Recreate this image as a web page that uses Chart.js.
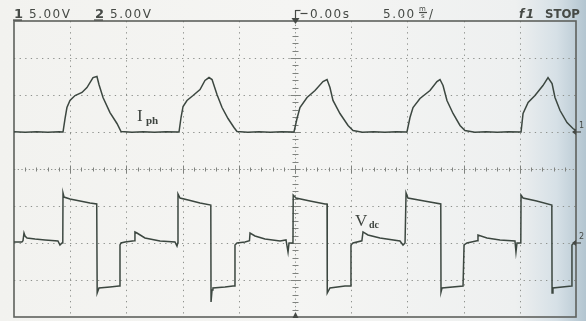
<!DOCTYPE html>
<html><head><meta charset="utf-8">
<script src="https://cdn.jsdelivr.net/npm/chart.js@4/dist/chart.umd.min.js"></script>
<style>html,body{margin:0;padding:0;background:#f3f3f1;overflow:hidden}canvas{display:block}</style>
</head><body>
<canvas id="scope" width="586" height="321"></canvas>
<script>
// Channel 1 — phase current probe, 5.00 V/div (time in ms, trigger at 0)
const ch1Time = [-25,-24,-23,-22,-21,-20.64,
  -20.46,-20.29,-20.02,-19.57,-18.95,-18.51,-17.97,-17.62,-17.44,-17.08,-16.46,-15.84,-15.48,
  -14.5,-13.5,-12.5,-11.5,-10.32,
  -10.14,-9.96,-9.61,-9.07,-8.45,-8.01,-7.65,-7.38,-6.94,-6.49,-5.96,-5.43,-5.16,
  -4.2,-3.2,-2.2,-1.2,-0.09,
  0.18,0.44,1.07,1.78,2.49,2.85,3.11,3.38,4.00,4.72,5.16,
  6.0,7.0,8.0,9.0,9.96,
  10.23,10.50,11.12,12.01,12.63,12.90,13.17,13.52,14.06,14.68,15.12,
  16.0,17.0,18.0,19.0,20.11,
  20.29,20.74,21.35,22.06,22.51,22.87,23.13,23.58,24.20,24.73,25];
const ch1Volts = [0.05,-0.03,0.04,-0.02,0.03,0,
  1.82,3.31,4.26,4.93,5.34,6.01,7.36,7.50,6.42,4.66,2.63,1.15,0.07,
  -0.03,0.04,-0.02,0.03,0,
  1.96,3.45,4.26,4.93,5.74,6.96,7.36,7.09,5.07,3.31,1.82,0.61,0.07,
  -0.03,0.04,-0.02,0.03,0,
  1.82,3.31,4.66,5.61,6.82,7.09,6.01,4.26,2.50,0.88,0.20,
  -0.03,0.04,-0.02,0.03,0,
  1.96,3.31,4.53,5.61,6.82,7.09,6.28,4.26,2.50,0.88,0.20,
  -0.03,0.04,-0.02,0.03,0,
  2.50,3.99,4.93,6.28,7.36,6.55,4.66,2.90,1.28,0.47,0.20];

// Channel 2 — DC-link voltage probe, 5.00 V/div
const ch2Time = [-25,-24.3,-24.2,-24.11,-24.02,-23.84,-23.13,-22.24,-21.09,-20.91,-20.73,-20.66,
  -20.64,-20.55,-20.02,-19.13,-18.24,-17.64,-17.60,-17.44,-16.46,-15.66,-15.59,-15.57,-15.48,
  -15.12,-14.30,-14.24,-14.06,-13.35,-12.01,-10.68,-10.50,-10.43,
  -10.41,-10.23,-9.5,-8.45,-7.49,-7.47,-7.38,-7.30,-6.23,-5.52,-5.36,-5.34,-5.16,
  -4.45,-4.05,-4.00,-3.56,-2.67,-1.33,-0.80,-0.62,-0.53,-0.18,
  -0.16,0.09,1.33,2.67,2.85,2.87,3.11,4.45,4.96,4.98,5.16,
  5.95,6.05,6.49,7.56,9.34,9.61,9.79,9.86,
  9.88,10.05,11.5,12.97,12.99,13.08,14.95,15.02,15.04,15.30,
  16.2,16.28,17.08,18.24,19.57,19.66,19.75,20.09,
  20.11,20.29,21.5,22.85,22.87,22.95,24.62,24.64,25];
const ch2Volts = [0.14,0.14,0.3,1.35,0.95,0.68,0.54,0.41,0.27,-0.27,0,0,
  6.76,6.21,5.94,5.67,5.40,5.27,-6.76,-6.08,-5.94,-5.81,-5.81,-0.27,0,
  0.14,0.3,1.49,1.35,0.68,0.27,0.14,-0.41,0,
  6.62,6.08,5.81,5.40,5.13,-7.97,-6.35,-6.08,-5.94,-5.81,-5.81,-0.27,0,
  0.14,0.3,1.35,0.95,0.54,0.27,0.41,-1.22,0,0,
  6.48,6.08,5.67,5.27,5.27,-6.76,-6.08,-5.81,-5.81,-0.27,0,
  0.3,1.49,1.08,0.68,0.27,-0.27,0,0,
  6.76,6.08,5.67,5.27,-6.62,-6.08,-5.81,-5.81,-0.27,0,
  0.3,1.08,0.68,0.41,0.27,-1.22,0,0,
  6.48,6.08,5.67,5.13,-6.76,-6.08,-5.81,-0.27,0.27];

// Screen divisions: 10 x 5 ms, 8 x 5 V
const timeDivs = [-20,-15,-10,-5,0,5,10,15,20];
const ch1Divs = [-20,-15,-10,-5,0,5,10];
const ch1Ground = 0, ch2Ground = 0;

const traceColor = '#3c4740';
const gridColor = '#8e918d';

function pairs(xs, ys){ return xs.map((x,i)=>({x, y: ys[i]})); }

function line(ctx,x1,y1,x2,y2){ ctx.beginPath(); ctx.moveTo(x1,y1); ctx.lineTo(x2,y2); ctx.stroke(); }

const backdrop = {
  id:'backdrop',
  beforeDraw(chart){
    const ctx = chart.ctx, w = chart.width, h = chart.height;
    const g = ctx.createLinearGradient(0,0,w,0);
    g.addColorStop(0,'#f2f2ef');
    g.addColorStop(0.5,'#f5f5f3');
    g.addColorStop(0.88,'#eef0f0');
    g.addColorStop(0.95,'#d6e0e6');
    g.addColorStop(1,'#b3c5d0');
    ctx.save(); ctx.fillStyle = g; ctx.fillRect(0,0,w,h); ctx.restore();
  }
};

const graticule = {
  id:'graticule',
  beforeDatasetsDraw(chart){
    const ctx = chart.ctx, {left,right,top,bottom} = chart.chartArea;
    const xs = chart.scales.x, ys = chart.scales.y1;
    ctx.save();
    ctx.strokeStyle = gridColor; ctx.lineWidth = 1;
    ctx.setLineDash([1.3,4.3]);
    timeDivs.forEach(t=>{ if(t===0) return; const p=Math.round(xs.getPixelForValue(t))+0.5; line(ctx,p,top,p,bottom); });
    ch1Divs.forEach(v=>{ if(v===-5) return; const p=Math.round(ys.getPixelForValue(v))+0.5; line(ctx,left,p,right,p); });
    // centre axes with minor ticks every fifth of a division
    ctx.setLineDash([1.3,2.4]);
    const cy = Math.round(ys.getPixelForValue(-5))+0.5;
    const cx = Math.round(xs.getPixelForValue(0))+0.5;
    line(ctx,left,cy,right,cy);
    line(ctx,cx,top,cx,bottom);
    ctx.setLineDash([]);
    ctx.strokeStyle = '#7f827e';
    for(let t=-24;t<=24;t++){
      const p = Math.round(xs.getPixelForValue(t))+0.5;
      const h = (t%5===0)?4:2;
      line(ctx,p,cy-h,p,cy+h);
    }
    for(let v=-24;v<=14;v++){
      const p = Math.round(ys.getPixelForValue(v))+0.5;
      const w = (v%5===0)?5:3;
      line(ctx,cx-w,p,cx+w,p);
    }
    // frame
    ctx.strokeStyle = '#5e615d'; ctx.lineWidth = 1.6;
    ctx.strokeRect(left,top,right-left,bottom-top);
    ctx.restore();
  }
};

const annotations = {
  id:'annotations',
  afterDraw(chart){
    const ctx = chart.ctx, {left,right,top,bottom} = chart.chartArea;
    const xs = chart.scales.x, y1 = chart.scales.y1, y2 = chart.scales.y2;
    const cx = Math.round(xs.getPixelForValue(0))+0.5;
    ctx.save();
    ctx.fillStyle = '#464a46'; ctx.strokeStyle = '#464a46';
    ctx.textBaseline = 'alphabetic';
    try{ ctx.letterSpacing = '1.5px'; }catch(e){}
    ctx.font = 'bold 13px "DejaVu Sans"';
    ctx.fillText('1', 14, 18);
    ctx.fillText('2', 95, 18);
    ctx.lineWidth = 1.2;
    line(ctx,13,20,22,20); line(ctx,94,20,103,20);
    ctx.font = '12px "DejaVu Sans"';
    ctx.fillText('5.00V', 29, 18);
    ctx.fillText('5.00V', 110, 18);
    // trigger position marker
    ctx.lineWidth = 1.2;
    line(ctx,cx,10,cx,top); line(ctx,cx,10.5,cx+5,10.5);
    line(ctx,cx+5,13.5,cx+12,13.5);
    ctx.beginPath(); ctx.moveTo(cx-4,top-3); ctx.lineTo(cx+4,top-3); ctx.lineTo(cx,top+3); ctx.closePath(); ctx.fill();
    ctx.fillText('0.00s', 310, 18);
    ctx.fillText('5.00', 383, 18);
    ctx.save(); try{ ctx.letterSpacing = '0px'; }catch(e){}
    ctx.font = '7px "DejaVu Sans"';
    ctx.fillText('m', 419, 11); ctx.fillText('s', 421, 18);
    line(ctx,419,12.5,427,12.5);
    ctx.restore();
    ctx.font = '12px "DejaVu Sans"';
    ctx.fillText('/', 429, 18);
    ctx.font = 'bold italic 12px "DejaVu Sans"';
    ctx.fillText('f1', 519, 18);
    ctx.font = 'bold 13px "DejaVu Sans Condensed", "DejaVu Sans"';
    try{ ctx.letterSpacing = '0px'; }catch(e){}
    ctx.fillText('STOP', 545, 18);
    // bottom centre marker
    ctx.beginPath(); ctx.moveTo(cx-3,bottom+1); ctx.lineTo(cx+3,bottom+1); ctx.lineTo(cx,bottom-5); ctx.closePath(); ctx.fill();
    // channel ground markers on the right edge
    [[y1,ch1Ground,'1'],[y2,ch2Ground,'2']].forEach(([sc,val,lab])=>{
      const p = sc.getPixelForValue(val);
      ctx.lineWidth = 1.2;
      line(ctx,right-3,p,right+5,p);
      ctx.beginPath(); ctx.moveTo(right-4,p); ctx.lineTo(right,p-3); ctx.lineTo(right,p+3); ctx.closePath(); ctx.fill();
      ctx.font = '8px "DejaVu Sans"';
      ctx.fillText(lab, right+3, p-4);
    });
    // trace labels
    ctx.fillStyle = '#3f4540';
    ctx.font = '17px "Liberation Serif"';
    ctx.fillText('I', 137, 121);
    ctx.font = 'bold 11px "Liberation Serif"';
    ctx.fillText('ph', 146, 124);
    ctx.font = '17px "Liberation Serif"';
    ctx.fillText('V', 355, 226);
    ctx.font = 'bold 10px "Liberation Serif"';
    ctx.fillText('dc', 369, 228);
    ctx.restore();
  }
};

new Chart(document.getElementById('scope'), {
  type:'line',
  data:{
    datasets:[
      {label:'Iph', data:pairs(ch1Time, ch1Volts), yAxisID:'y1', borderColor:traceColor, borderWidth:1.5, pointRadius:0, tension:0},
      {label:'Vdc', data:pairs(ch2Time, ch2Volts), yAxisID:'y2', borderColor:traceColor, borderWidth:1.5, pointRadius:0, tension:0}
    ]
  },
  options:{
    responsive:false, animation:false, devicePixelRatio:1,
    parsing:true,
    layout:{padding:{left:14,right:10,top:21,bottom:4}},
    plugins:{legend:{display:false}, tooltip:{enabled:false}},
    scales:{
      x:{type:'linear', min:-25, max:25, display:false},
      y1:{type:'linear', min:-25, max:15, display:false},
      y2:{type:'linear', min:-10, max:30, display:false}
    }
  },
  plugins:[backdrop, graticule, annotations]
});
</script>
</body></html>
